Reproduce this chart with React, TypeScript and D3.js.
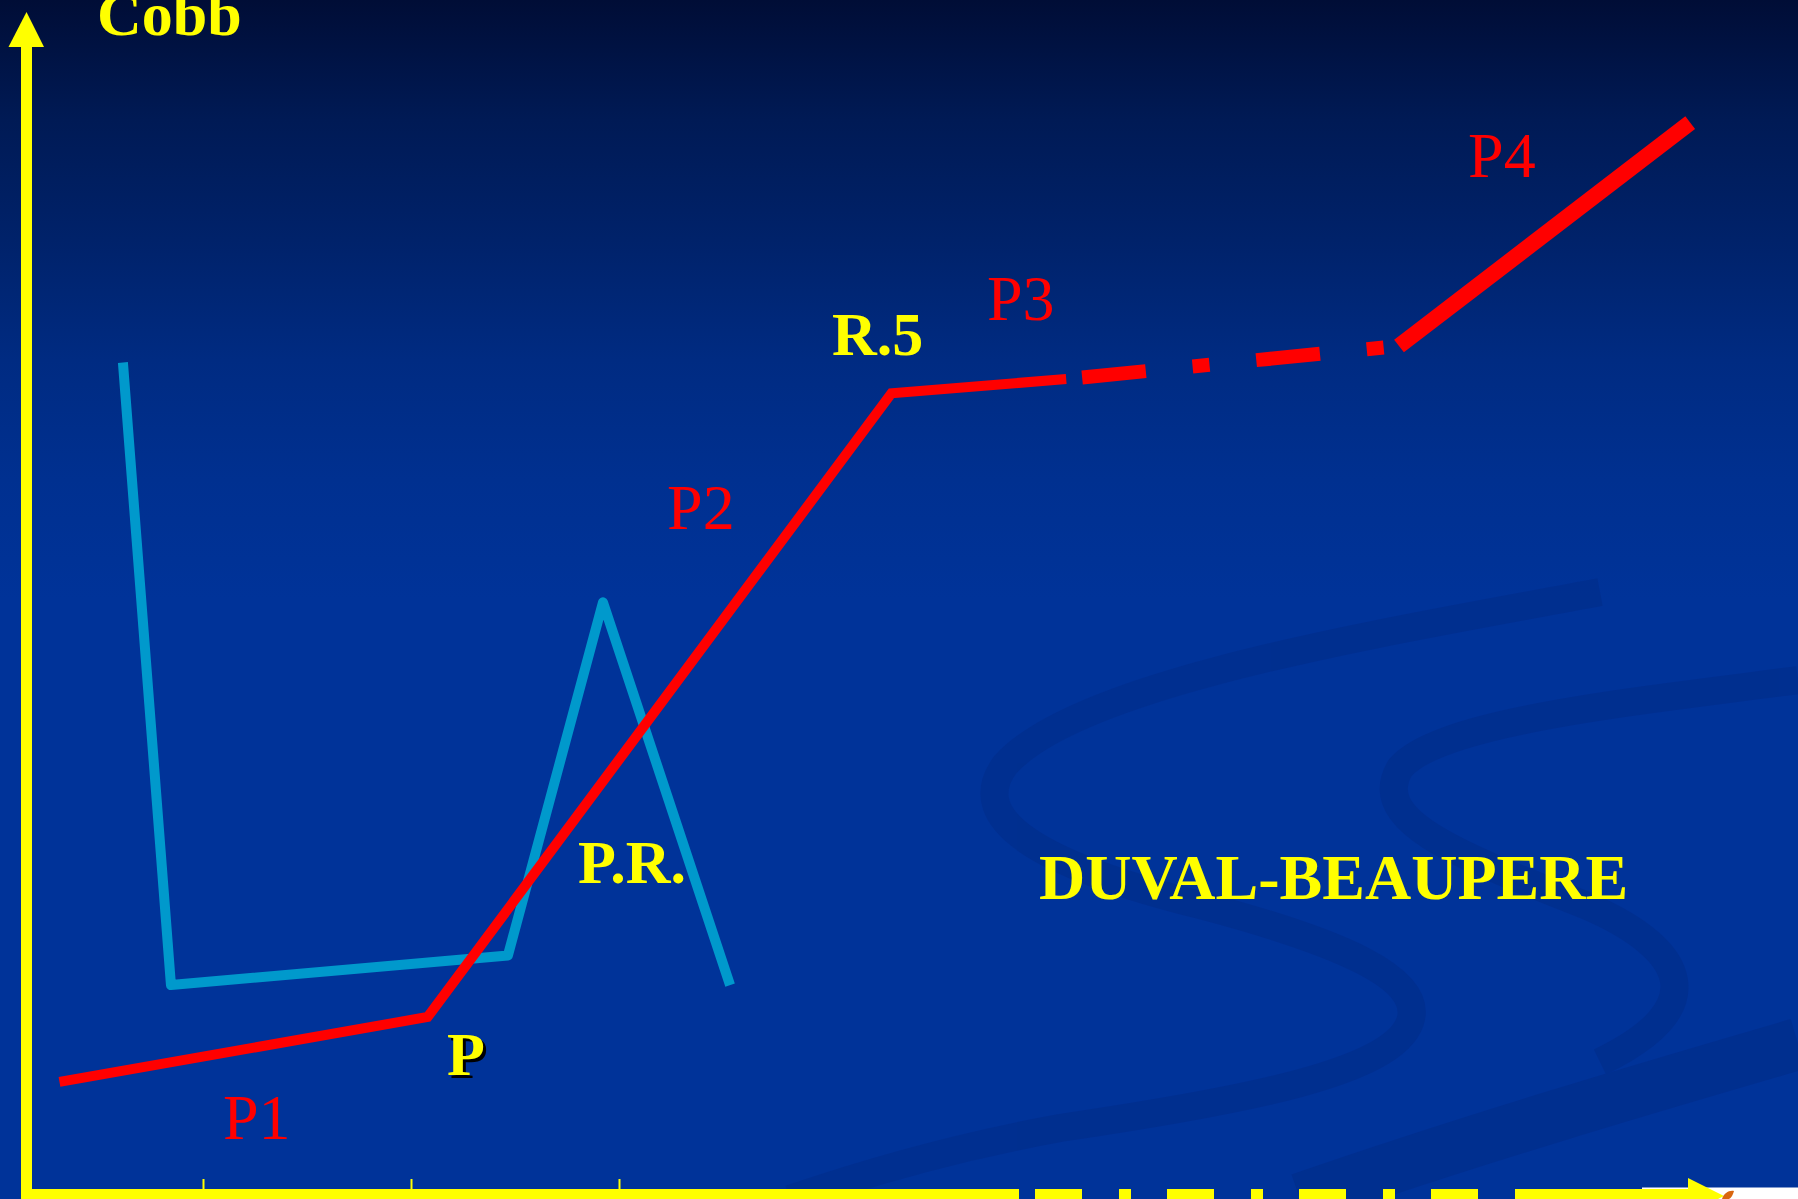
import React, { useEffect, useRef } from 'react';
import * as d3 from 'd3';

const W = 1798;
const H = 1199;

// age axis (years, one tick per year) and Cobb angle (0-100)
const xTicks = [1, 2, 3];

// red curve: P1 -> P -> P2 -> R.5 -> P3 (dashed) -> P4
const redSolid: [number, number][] = [
  [0.31, 10.1],
  [2.08, 16.0],
  [4.31, 72.7],
  [5.15, 74.0],
];
const redDashed: [number, number][] = [
  [5.15, 74.0],
  [6.75, 77.0],
];
const redP4: [number, number][] = [
  [6.75, 77.0],
  [8.15, 97.3],
];

// blue curve (growth velocity, peak = P.R.)
const blueCurve: [number, number][] = [
  [0.615, 75.5],
  [0.846, 18.9],
  [2.466, 21.6],
  [2.923, 53.7],
  [3.534, 18.9],
];

const redLabels = [
  { text: 'P1', x: 1.096, y: 4.9 },
  { text: 'P2', x: 3.231, y: 60.4 },
  { text: 'P3', x: 4.769, y: 79.4 },
  { text: 'P4', x: 7.082, y: 92.4 },
];

const yellowLabels = [
  { text: 'Cobb', x: 0.49, y: 105.3 },
  { text: 'R.5', x: 4.024, y: 76.2 },
  { text: 'P.R.', x: 2.803, y: 28.2 },
  { text: 'DUVAL-BEAUPERE', x: 5.019, y: 26.7 },
];

const App: React.FC = () => {
  const ref = useRef<SVGSVGElement | null>(null);

  useEffect(() => {
    if (!ref.current) return;
    const svg = d3.select(ref.current);
    svg.selectAll('*').remove();
    svg.attr('width', W).attr('height', H);

    const x = d3.scaleLinear().domain([0, 10]).range([-5, 2075]);
    const y = d3.scaleLinear().domain([0, 100]).range([1193, 93]);
    const font = "'Liberation Serif', 'Times New Roman', serif";

    // background gradient
    const defs = svg.append('defs');
    const grad = defs
      .append('linearGradient')
      .attr('id', 'bg')
      .attr('x1', 0)
      .attr('y1', 0)
      .attr('x2', 0)
      .attr('y2', 1);
    [
      [0, '#000d36'],
      [0.1, '#001a55'],
      [0.2, '#00226a'],
      [0.3, '#002b82'],
      [0.4, '#003090'],
      [0.5, '#003399'],
      [1, '#003399'],
    ].forEach(([o, c]) => grad.append('stop').attr('offset', o as number).attr('stop-color', c as string));
    svg.append('rect').attr('width', W).attr('height', H).attr('fill', 'url(#bg)');

    // decorative swooshes of the slide template
    const deco = svg.append('g').attr('fill', 'none').attr('stroke', '#002d8a').attr('opacity', 0.6);
    deco
      .append('path')
      .attr('d', 'M1600 592 C1400 630,1080 680,1005 765 C965 820,1040 865,1200 905 C1340 942,1425 978,1410 1022 C1392 1072,1250 1100,1060 1128 C950 1148,860 1175,790 1199')
      .attr('stroke-width', 28);
    deco
      .append('path')
      .attr('d', 'M1798 680 C1650 700,1440 720,1400 768 C1370 820,1450 852,1585 905 C1690 950,1712 1008,1600 1062')
      .attr('stroke-width', 28);
    deco
      .append('path')
      .attr('d', 'M1798 1044 C1640 1090,1470 1140,1300 1199')
      .attr('stroke-width', 52);

    const line = d3
      .line<[number, number]>()
      .x((d) => x(d[0]))
      .y((d) => y(d[1]));

    // blue curve
    svg
      .append('path')
      .attr('d', line(blueCurve))
      .attr('fill', 'none')
      .attr('stroke', '#0099cc')
      .attr('stroke-width', 10)
      .attr('stroke-linejoin', 'round');

    // red curve
    svg
      .append('path')
      .attr('d', line(redSolid))
      .attr('fill', 'none')
      .attr('stroke', '#ff0000')
      .attr('stroke-width', 10)
      .attr('stroke-linejoin', 'miter');
    svg
      .append('path')
      .attr('d', line(redDashed))
      .attr('fill', 'none')
      .attr('stroke', '#ff0000')
      .attr('stroke-width', 14)
      .attr('stroke-dasharray', '0 16 64 47 17 47 64 47 17 100');
    svg
      .append('path')
      .attr('d', line(redP4))
      .attr('fill', 'none')
      .attr('stroke', '#ff0000')
      .attr('stroke-width', 16);

    // axes
    const axisX = 26.5;
    const axisY = 1196;
    const yellow = '#ffff00';
    svg.append('rect').attr('x', 1642).attr('y', 1187.5).attr('width', W - 1642).attr('height', H - 1187.5).attr('fill', '#ffffff');
    svg.append('rect').attr('x', axisX - 5.5).attr('y', 45).attr('width', 11).attr('height', H - 45).attr('fill', yellow);
    svg.append('polygon').attr('points', `${axisX - 18},47 ${axisX + 17.5},47 ${axisX},12`).attr('fill', yellow);

    const xAxisG = svg.append('g').attr('stroke', yellow).attr('stroke-width', 14);
    xAxisG.append('line').attr('x1', axisX).attr('x2', 1019).attr('y1', axisY).attr('y2', axisY);
    xAxisG
      .append('line')
      .attr('x1', 1035)
      .attr('x2', 1478)
      .attr('y1', axisY)
      .attr('y2', axisY)
      .attr('stroke-dasharray', '47 37 12 36');
    xAxisG.append('line').attr('x1', 1515).attr('x2', 1690).attr('y1', axisY).attr('y2', axisY);
    svg.append('polygon').attr('points', `1688,1178 1724,1196 1688,1214`).attr('fill', yellow);
    svg
      .append('path')
      .attr('d', 'M1722 1199 C1724 1193,1729 1190,1734 1191 C1733 1195,1731 1198,1729 1199 Z')
      .attr('fill', '#d9660f');

    const tickAxis = d3
      .axisTop(x)
      .tickValues(xTicks)
      .tickSize(10)
      .tickFormat(() => '');
    const tg = svg.append('g').attr('transform', 'translate(0,1189)').call(tickAxis);
    tg.select('.domain').remove();
    tg.selectAll('line').attr('stroke', yellow).attr('stroke-width', 2);

    // labels
    svg
      .selectAll('.red-label')
      .data(redLabels)
      .enter()
      .append('text')
      .attr('class', 'red-label')
      .attr('x', (d) => x(d.x))
      .attr('y', (d) => y(d.y))
      .attr('fill', '#ff0000')
      .attr('font-family', font)
      .attr('font-size', 64)
      .text((d) => d.text);

    svg
      .selectAll('.yellow-label')
      .data(yellowLabels)
      .enter()
      .append('text')
      .attr('class', 'yellow-label')
      .attr('x', (d) => x(d.x))
      .attr('y', (d) => y(d.y))
      .attr('fill', yellow)
      .attr('font-family', font)
      .attr('font-weight', 'bold')
      .attr('font-size', (d) => (d.text.length > 6 ? 64 : 62))
      .text((d) => d.text);

    // "P" with a drop shadow
    const pX = x(2.173);
    const pY = y(10.73);
    svg
      .append('text')
      .attr('x', pX + 3)
      .attr('y', pY + 3)
      .attr('fill', '#000000')
      .attr('font-family', font)
      .attr('font-weight', 'bold')
      .attr('font-size', 62)
      .text('P');
    svg
      .append('text')
      .attr('x', pX)
      .attr('y', pY)
      .attr('fill', yellow)
      .attr('font-family', font)
      .attr('font-weight', 'bold')
      .attr('font-size', 62)
      .text('P');
  }, []);

  return <svg ref={ref} style={{ position: 'absolute', left: 0, top: 0, display: 'block' }}></svg>;
};

export default App;
